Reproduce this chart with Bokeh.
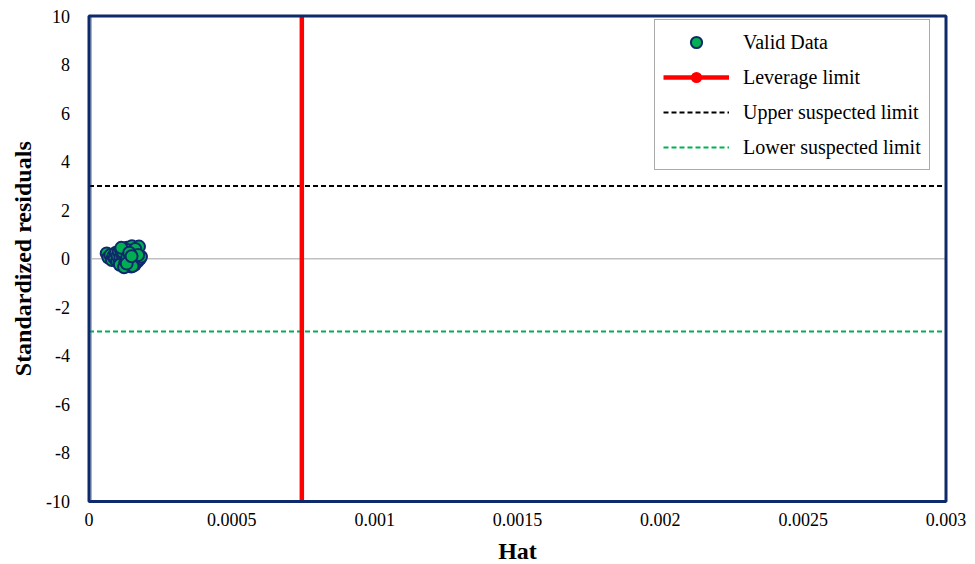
import math
from bokeh.plotting import figure
from bokeh.models import (ColumnDataSource, Legend, LegendItem, Label, Range1d)
from bokeh.embed import file_html
from bokeh.resources import INLINE

# Williams plot: hat values vs standardized residuals
hat = [0.000062, 0.000068, 0.000075, 0.000080, 0.000085, 0.000090, 0.000094,
       0.000098, 0.000100, 0.000104, 0.000107, 0.000110, 0.000112, 0.000115,
       0.000117, 0.000120, 0.000122, 0.000124, 0.000126, 0.000128, 0.000130,
       0.000131, 0.000133, 0.000135, 0.000136, 0.000138, 0.000140, 0.000142,
       0.000143, 0.000145, 0.000147, 0.000148, 0.000150, 0.000152, 0.000154,
       0.000156, 0.000158, 0.000160, 0.000163, 0.000166, 0.000170, 0.000175,
       0.000178, 0.000182, 0.000108, 0.000118, 0.000127, 0.000137, 0.000146,
       0.000155, 0.000162, 0.000172, 0.000113, 0.000123, 0.000134, 0.000144,
       0.000152, 0.000132, 0.000141, 0.000149]
std_resid = [0.22, 0.05, 0.15, -0.05, 0.10, 0.02, 0.25, -0.10, 0.12, 0.30,
             -0.15, 0.05, 0.35, -0.20, 0.18, 0.00, 0.40, -0.28, 0.22, 0.08,
             0.32, -0.12, 0.45, -0.30, 0.15, 0.28, -0.05, 0.38, -0.22, 0.10,
             0.20, -0.32, 0.52, 0.02, -0.15, 0.30, 0.12, -0.25, 0.05, 0.22,
             -0.10, 0.50, 0.00, 0.08, -0.25, 0.28, -0.18, 0.35, 0.00, -0.05,
             0.40, 0.15, 0.45, -0.35, 0.05, 0.18, -0.30, -0.20, 0.25, 0.10]

leverage_limit = 0.000745
upper_limit = 3.0
lower_limit = -3.0

x_min, x_max = 0.0, 0.003
y_min, y_max = -10.0, 10.0
x_ticks = [0, 0.0005, 0.001, 0.0015, 0.002, 0.0025, 0.003]
x_tick_labels = ["0", "0.0005", "0.001", "0.0015", "0.002", "0.0025", "0.003"]
y_ticks = [-10, -8, -6, -4, -2, 0, 2, 4, 6, 8, 10]
y_tick_labels = ["-10", "-8", "-6", "-4", "-2", "0", "2", "4", "6", "8", "10"]

FONT = "Liberation Serif"
NAVY = "#0f2a6b"
TICK_SIZE = "18px"
TITLE_SIZE = "24px"

# page layout (pixels): the plotting box sits inside margins that hold the
# tick labels and titles, all drawn in data space of one full-page frame
W, H = 975, 564
M_LEFT, M_RIGHT, M_TOP, M_BOTTOM = 88.5, 29.5, 15.5, 63.0
kx = (x_max - x_min) / (W - M_LEFT - M_RIGHT)
ky = (y_max - y_min) / (H - M_TOP - M_BOTTOM)

p = figure(width=W, height=H, output_backend="svg", toolbar_location=None,
           x_axis_type=None, y_axis_type=None,
           x_range=Range1d(x_min - M_LEFT * kx, x_max + M_RIGHT * kx),
           y_range=Range1d(y_min - M_BOTTOM * ky, y_max + M_TOP * ky),
           min_border=0)
p.background_fill_color = "white"
p.border_fill_color = "white"
p.outline_line_color = None
p.xgrid.visible = False
p.ygrid.visible = False

# zero line and the light y-axis line just inside the box
p.line(x=[x_min, x_max], y=[0, 0], line_color="#c0c0c0", line_width=1.5)
p.line(x=[x_min + 2 * kx] * 2, y=[y_min, y_max], line_color="#a9b4c8",
       line_width=2)

# suspected limits
upper = p.line(x=[x_min, x_max], y=[upper_limit, upper_limit],
               line_color="black", line_width=2, line_dash="5 3")
lower = p.line(x=[x_min, x_max], y=[lower_limit, lower_limit],
               line_color="#00b050", line_width=2, line_dash="5 3")

# leverage limit: a line with zero-size end markers on the box edges
# (the legend still draws its marker at legend size)
lev_src = ColumnDataSource(dict(x=[leverage_limit] * 2, y=[y_min, y_max],
                                marker_size=[0, 0]))
lev_line = p.line("x", "y", source=lev_src, line_color="#ff0000",
                  line_width=4.5)
lev_mark = p.scatter("x", "y", source=lev_src, size="marker_size",
                     marker="circle", fill_color="#ff0000", line_color=None)

# data points
pts = p.scatter(hat, std_resid, size=12, marker="circle",
                fill_color="#00b050", line_color=NAVY, line_width=2)

# plotting box border
p.quad(left=[x_min], right=[x_max], bottom=[y_min], top=[y_max],
       fill_color=None, line_color=NAVY, line_width=3)

# tick labels
for t, lab in zip(x_ticks, x_tick_labels):
    p.add_layout(Label(x=t, y=y_min, text=lab, y_offset=-11,
                       text_align="center", text_baseline="top",
                       text_font=FONT, text_font_size=TICK_SIZE,
                       text_color="black"))
for t, lab in zip(y_ticks, y_tick_labels):
    p.add_layout(Label(x=x_min, y=t, text=lab, x_offset=-19,
                       text_align="right", text_baseline="middle",
                       text_font=FONT, text_font_size=TICK_SIZE,
                       text_color="black"))

# axis titles
p.add_layout(Label(x=(x_min + x_max) / 2, y=y_min, text="Hat", y_offset=-36,
                   text_align="center", text_baseline="top",
                   text_font=FONT, text_font_size=TITLE_SIZE,
                   text_font_style="bold", text_color="black"))
p.add_layout(Label(x=x_min, y=(y_min + y_max) / 2, text="Standardized residuals",
                   x_offset=-66, angle=math.pi / 2,
                   text_align="center", text_baseline="middle",
                   text_font=FONT, text_font_size=TITLE_SIZE,
                   text_font_style="bold", text_color="black"))

legend = Legend(items=[
    LegendItem(label="Valid Data", renderers=[pts]),
    LegendItem(label="Leverage limit", renderers=[lev_line, lev_mark]),
    LegendItem(label="Upper suspected limit", renderers=[upper]),
    LegendItem(label="Lower suspected limit", renderers=[lower]),
], location=(654, H - 170))
legend.label_text_font = FONT
legend.label_text_font_size = "20px"
legend.label_text_color = "black"
legend.glyph_width = 66
legend.glyph_height = 28
legend.label_height = 22
legend.spacing = 7
legend.padding = 8
legend.label_standoff = 14
legend.border_line_color = "#555555"
legend.border_line_width = 1
legend.background_fill_alpha = 1
p.add_layout(legend)

open("out.html", "w").write(file_html(p, INLINE))
